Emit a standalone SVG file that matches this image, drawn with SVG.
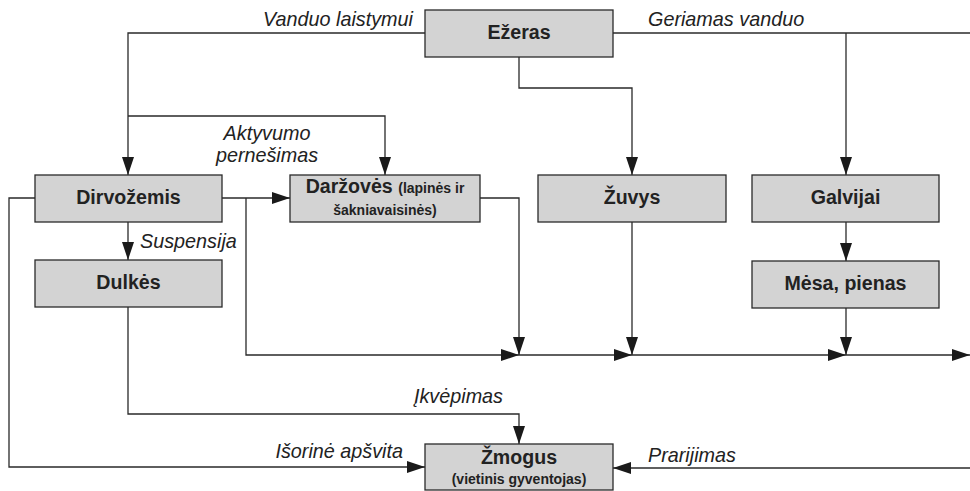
<svg xmlns="http://www.w3.org/2000/svg" width="970" height="491" viewBox="0 0 970 491">
<style>
.box{fill:#d3d3d3;stroke:#2a2a2a;stroke-width:1.3}
.t{font-family:"Liberation Sans",Arial,sans-serif;font-weight:bold;font-size:19.6px;fill:#222;text-anchor:middle}
.s{font-size:14px}
.l{font-family:"Liberation Sans",Arial,sans-serif;font-style:italic;font-size:19.8px;fill:#222}
.c{fill:none;stroke:#2a2a2a;stroke-width:1.3}
.a{marker-end:url(#arr)}
</style>
<defs>
<marker id="arr" markerUnits="userSpaceOnUse" markerWidth="18" markerHeight="12" refX="18" refY="6" orient="auto">
<path d="M0,0 L18,6 L0,12 z" fill="#1a1a1a"/>
</marker>
</defs>
<g id="connectors">
<path class="c a" d="M425,33 H128 V175"/>
<path class="c a" d="M128,116 H385 V175"/>
<path class="c" d="M613,33 H970"/>
<path class="c a" d="M846,33 V175"/>
<path class="c a" d="M519,57 V88 H632 V175"/>
<path class="c a" d="M222,198 H290"/>
<path class="c a" d="M128,222 V260"/>
<path class="c a" d="M846,222 V261"/>
<path class="c a" d="M480,198 H519 V355"/>
<path class="c a" d="M632,222 V355"/>
<path class="c a" d="M846,308 V355"/>
<path class="c a" d="M246,198 V355 H519"/>
<path class="c a" d="M519,355 H632"/>
<path class="c a" d="M632,355 H846"/>
<path class="c a" d="M846,355 H970"/>
<path class="c a" d="M128,307 V414 H519 V444"/>
<path class="c a" d="M35,198 H9 V467 H425"/>
<path class="c a" d="M970,468 H613"/>
<text class="l" x="413" y="26" text-anchor="end">Vanduo laistymui</text>
<text class="l" x="648" y="26">Geriamas vanduo</text>
<text class="l" x="267" y="140" text-anchor="middle">Aktyvumo</text>
<text class="l" x="267" y="162" text-anchor="middle">pernešimas</text>
<text class="l" x="140" y="248">Suspensija</text>
<text class="l" x="503" y="403" text-anchor="end">Įkvėpimas</text>
<text class="l" x="403" y="458" text-anchor="end">Išorinė apšvita</text>
<text class="l" x="648" y="462">Prarijimas</text>
</g>
<g id="ezeras"><rect class="box" x="425" y="10" width="188" height="47"/><text class="t" x="519" y="39">Ežeras</text></g>
<g id="dirvozemis"><rect class="box" x="35" y="175" width="187" height="47"/><text class="t" x="128.5" y="204">Dirvožemis</text></g>
<g id="darzoves"><rect class="box" x="290" y="175" width="190" height="47"/><text class="t" x="385" y="193">Daržovės <tspan class="s">(lapinės ir</tspan></text><text class="t s" x="385" y="215">šakniavaisinės)</text></g>
<g id="zuvys"><rect class="box" x="538" y="175" width="188" height="47"/><text class="t" x="632" y="204">Žuvys</text></g>
<g id="galvijai"><rect class="box" x="752" y="175" width="187" height="47"/><text class="t" x="845.5" y="204">Galvijai</text></g>
<g id="dulkes"><rect class="box" x="35" y="260" width="187" height="47"/><text class="t" x="128.5" y="289">Dulkės</text></g>
<g id="mesa"><rect class="box" x="752" y="261" width="187" height="47"/><text class="t" x="845.5" y="290">Mėsa, pienas</text></g>
<g id="zmogus"><rect class="box" x="425" y="444" width="188" height="46"/><text class="t" x="519" y="464">Žmogus</text><text class="t s" x="519" y="484">(vietinis gyventojas)</text></g>
</svg>
